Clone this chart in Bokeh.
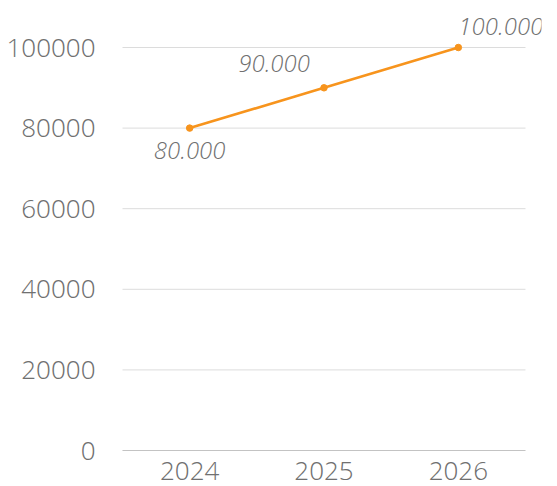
from bokeh.plotting import figure
from bokeh.models import ColumnDataSource, FixedTicker, Range1d, FactorRange, Label, NumeralTickFormatter
from bokeh.embed import file_html
from bokeh.resources import INLINE

years = ["2024", "2025", "2026"]
values = [80000, 90000, 100000]
value_labels = ["80.000", "90.000", "100.000"]
y_ticks = [0, 20000, 40000, 60000, 80000, 100000]

# label placement (style)
lab_dx = [0, -14, 0]
lab_dy = [-14, 16, 13]
lab_align = ["center", "right", "left"]
lab_base = ["top", "bottom", "bottom"]

src = ColumnDataSource(dict(x=years, y=values))

FONT = "Open Sans Light"
GRAY = "#707070"
PAD = 16 / 134.33  # extra frame room (in factor units) so labels are not clipped

p = figure(width=557, height=486,
           x_range=FactorRange(*years, range_padding=PAD, range_padding_units="absolute"),
           y_range=Range1d(0, 108685), output_backend="svg", toolbar_location=None,
           min_border_left=106, min_border_right=16, min_border_top=12, min_border_bottom=36)
p.outline_line_color = None
p.background_fill_color = "white"
p.border_fill_color = "white"

# gridlines and axis line spanning exactly the category band
n = len(years)
p.segment(x0=[0] * len(y_ticks), x1=[n] * len(y_ticks), y0=y_ticks, y1=y_ticks,
          line_color="#dcdcdc", line_width=1)
p.segment(x0=[0], x1=[n], y0=[0], y1=[0], line_color="#9a9a9a", line_width=1)

p.line("x", "y", source=src, line_color="#f7941d", line_width=2.6)
p.scatter("x", "y", source=src, size=6.5, fill_color="#f7941d", line_color="#f7941d")

for i, (v, t) in enumerate(zip(values, value_labels)):
    p.add_layout(Label(x=i + 0.5, y=v, text=t,
                       x_offset=lab_dx[i], y_offset=lab_dy[i],
                       text_align=lab_align[i], text_baseline=lab_base[i],
                       text_font=FONT, text_font_style="italic", text_font_size="24px",
                       text_color=GRAY))

p.xgrid.grid_line_color = None
p.ygrid.grid_line_color = None
p.yaxis.ticker = FixedTicker(ticks=y_ticks)
p.yaxis.formatter = NumeralTickFormatter(format="0")
p.yaxis.axis_line_color = None
p.yaxis.major_tick_line_color = None
p.yaxis.minor_tick_line_color = None
p.yaxis.major_label_standoff = 5
p.xaxis.axis_line_color = None
p.xaxis.major_tick_line_color = None
p.xaxis.minor_tick_line_color = None
p.xaxis.major_label_standoff = 5
for ax in (p.xaxis, p.yaxis):
    ax.major_label_text_font = FONT
    ax.major_label_text_font_size = "26px"
    ax.major_label_text_color = GRAY

open("out.html", "w").write(file_html(p, INLINE))
